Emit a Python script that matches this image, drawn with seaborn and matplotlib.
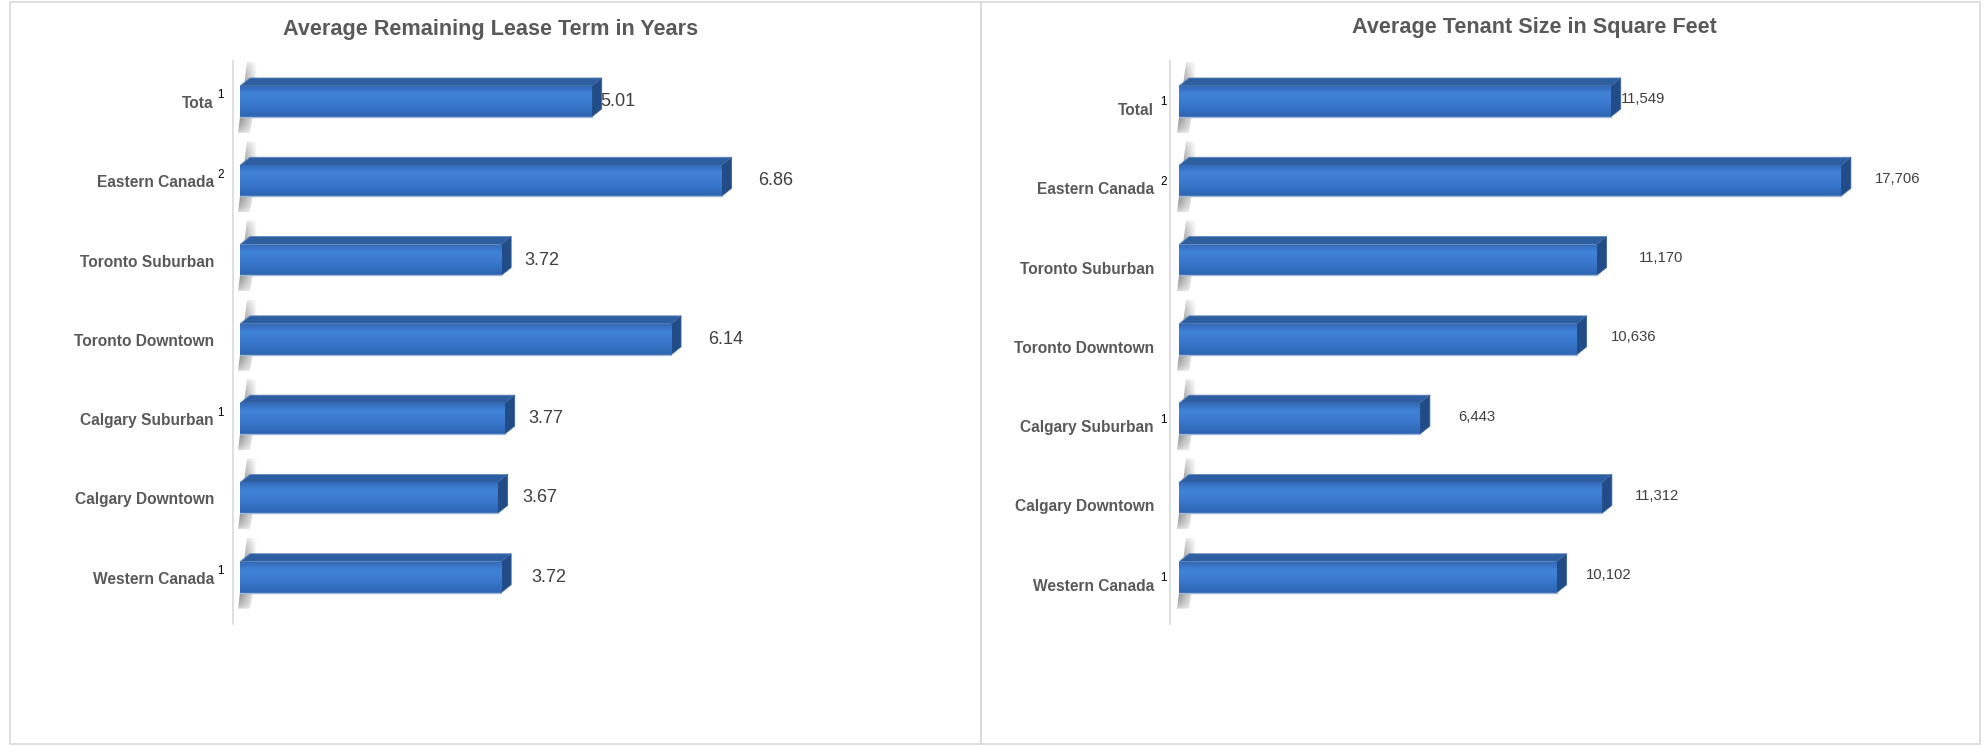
import numpy as np
import pandas as pd
import matplotlib
matplotlib.use("Agg")
import matplotlib.pyplot as plt
import seaborn as sns
from matplotlib import font_manager
from matplotlib.patches import Polygon, Rectangle
from matplotlib.colors import LinearSegmentedColormap
from matplotlib.transforms import offset_copy

# ---------------- data ----------------
lease_regions = ["Tota", "Eastern Canada", "Toronto Suburban", "Toronto Downtown",
                 "Calgary Suburban", "Calgary Downtown", "Western Canada"]
lease_notes = ["1", "2", "", "", "1", "", "1"]
lease_years = [5.01, 6.86, 3.72, 6.14, 3.77, 3.67, 3.72]
lease_title = "Average Remaining Lease Term in Years"

size_regions = ["Total", "Eastern Canada", "Toronto Suburban", "Toronto Downtown",
                "Calgary Suburban", "Calgary Downtown", "Western Canada"]
size_notes = ["1", "2", "", "", "1", "", "1"]
tenant_sqft = [11549, 17706, 11170, 10636, 6443, 11312, 10102]
size_title = "Average Tenant Size in Square Feet"

# label nudges (pixels from bar end) - styling only
lease_nudge = [9, 37, 23, 37, 24, 25, 30]
size_nudge = [10, 34, 42, 34, 38, 33, 29]

# ---------------- style ----------------
sns.set_theme(style="white")
available = {f.name for f in font_manager.fontManager.ttflist}
if "Liberation Sans Narrow" in available:
    FAM, K = "Liberation Sans Narrow", 1.0
else:
    FAM, K = "Liberation Sans", 0.84
plt.rcParams["font.family"] = [FAM, "DejaVu Sans"]

W, H = 1984, 745
fig = plt.figure(figsize=(W / 100, H / 100), dpi=100)
fig.patch.set_facecolor("white")

GREY = "#595959"
VALC = "#404040"
front_cmap = LinearSegmentedColormap.from_list(
    "front", ["#3569B8", "#3F83D8", "#3B7BD1", "#3471C4", "#2E64B0"])
TOPC = "#2D5E9F"
SIDEC = "#214C88"

AX_TOP, AX_BOT = 61, 624
YLIM = (6.59, -0.51)


def panel(cats, notes, vals, texts, nudges, title, title_x, title_y,
          spine_px, zero_px, ppu, right_px, lab_gap, sup_gap, lab_dy,
          val_fs, val_dy):
    rect = [spine_px / W, 1 - AX_BOT / H, (right_px - spine_px) / W, (AX_BOT - AX_TOP) / H]
    ax = fig.add_axes(rect)
    df = pd.DataFrame({"region": cats, "value": vals})
    sns.barplot(data=df, x="value", y="region", orient="h", width=0.39,
                color="#3A7AD0", saturation=1, edgecolor="none", ax=ax, zorder=3)
    x_left = -(zero_px - spine_px) / ppu
    x_right = x_left + (right_px - spine_px) / ppu
    ax.set_xlim(x_left, x_right)
    ax.set_ylim(*YLIM)
    ppy = (AX_BOT - AX_TOP) / (YLIM[0] - YLIM[1])
    dx, dy = 10 / ppu, 8 / ppy

    # shadow texture (alpha gradient)
    nx, ny = 40, 90
    hx = np.clip(1 - np.linspace(0, 1, nx) / 0.8, 0, 1) ** 0.9
    vy = np.sin(np.pi * np.linspace(0.02, 0.98, ny)) ** 0.45
    alpha = 0.85 * np.outer(vy, hx)
    shade = np.zeros((ny, nx, 4))
    shade[..., :3] = 0.35
    shade[..., 3] = alpha

    for p in list(ax.patches):
        x0, w = p.get_x(), p.get_width()
        y0, h = p.get_y(), p.get_height()
        x1 = x0 + w
        yt, yb = min(y0, y0 + h), max(y0, y0 + h)
        # wall shadow
        s_top, s_bot = yt - dy - 16 / ppy, yb + 16 / ppy
        sx0, sx1 = x0 - 2 / ppu, x0 + 22 / ppu
        clip = Polygon([(x0 - 2 / ppu, s_bot), (x0 + 10 / ppu, s_bot),
                        (x0 + 22 / ppu, s_top), (x0 + 7 / ppu, s_top)],
                       closed=True, facecolor="none", edgecolor="none", transform=ax.transData)
        ax.add_patch(clip)
        sim = ax.imshow(shade, extent=(sx0, sx1, s_bot, s_top), origin="upper", aspect="auto",
                        zorder=1, interpolation="bilinear")
        sim.set_clip_path(clip)
        # top face
        ax.add_patch(Polygon([(x0, yt), (x1, yt), (x1 + dx, yt - dy), (x0 + dx, yt - dy)],
                             closed=True, facecolor=TOPC, edgecolor="#5f86bd", lw=0.6, zorder=4))
        # side face
        ax.add_patch(Polygon([(x1, yt), (x1 + dx, yt - dy), (x1 + dx, yb - dy), (x1, yb)],
                             closed=True, facecolor=SIDEC, edgecolor="#3b62a0", lw=0.6, zorder=4))
        # gradient front face
        grad = np.linspace(0, 1, 64).reshape(-1, 1)
        im = ax.imshow(grad, extent=(x0, x1, yb, yt), origin="upper", aspect="auto",
                       cmap=front_cmap, zorder=5, interpolation="bilinear")
        im.set_clip_path(p)
        ax.plot([x0, x1], [yb, yb], color="#9fb7da", lw=1.0, zorder=6)

    ax.set_xlim(x_left, x_right)
    ax.set_ylim(*YLIM)
    ax.set_xticks([])
    ax.set_yticks([])
    ax.set_xlabel("")
    ax.set_ylabel("")
    for s in ["top", "right", "bottom"]:
        ax.spines[s].set_visible(False)
    ax.spines["left"].set_color("#D9D9D9")
    ax.spines["left"].set_linewidth(1.2)
    ax.set_facecolor("none")

    ytr = ax.get_yaxis_transform()
    for i, (c, n, v, t, nd) in enumerate(zip(cats, notes, vals, texts, nudges)):
        ax.text(0, i, c, transform=offset_copy(ytr, fig=fig, x=-lab_gap, y=-lab_dy, units="dots"),
                ha="right", va="center", fontsize=13.3 * K, fontweight="bold", color=GREY)
        if n:
            ax.text(0, i, n, transform=offset_copy(ytr, fig=fig, x=-sup_gap, y=-lab_dy + 8, units="dots"),
                    ha="left", va="center", fontsize=10 * K, color="black")
        ax.text(v, i, t, transform=offset_copy(ax.transData, fig=fig, x=nd, y=val_dy, units="dots"),
                ha="left", va="center", fontsize=val_fs * K, color=VALC)

    fig.text(title_x / W, 1 - title_y / H, title, ha="center", va="center",
             fontsize=18.5 * K, fontweight="bold", color=GREY)
    return ax


panel(lease_regions, lease_notes, lease_years, [f"{v:.2f}" for v in lease_years], lease_nudge,
      lease_title, 491, 29, spine_px=233, zero_px=240, ppu=70.2, right_px=930,
      lab_gap=19, sup_gap=16, lab_dy=2, val_fs=15.5, val_dy=0)
panel(size_regions, size_notes, tenant_sqft, [f"{v:,}" for v in tenant_sqft], size_nudge,
      size_title, 1534, 27, spine_px=1170, zero_px=1179, ppu=0.03738, right_px=1965,
      lab_gap=16, sup_gap=10, lab_dy=9, val_fs=12.8, val_dy=2)

# panel borders
for (l, r) in [(10, 981), (981, 1980)]:
    fig.add_artist(Rectangle((l / W, 1 / H), (r - l) / W, (H - 3) / H, transform=fig.transFigure,
                             fill=False, edgecolor="#D9D9D9", lw=1.2))

fig.savefig("out.png", dpi=100, facecolor="white")
